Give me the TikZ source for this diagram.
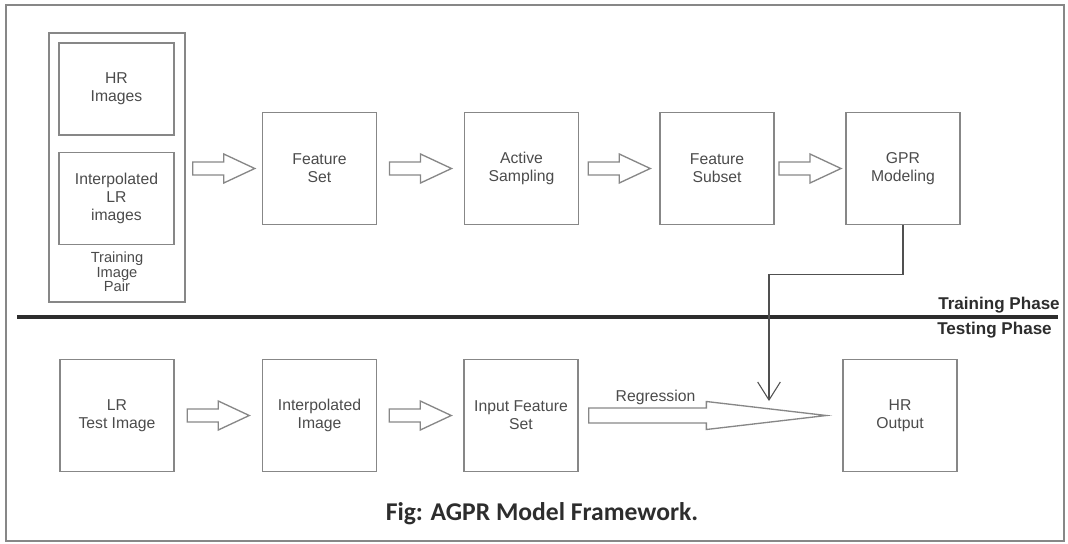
\documentclass[tikz,border=0pt]{standalone}
\usepackage{fontspec}
\setmainfont{Liberation Sans}
\newfontfamily\capfont{Carlito}
\usetikzlibrary{arrows.meta,calc,positioning}
\definecolor{boxgray}{RGB}{135,135,135}
\definecolor{txtgray}{RGB}{75,75,75}
\definecolor{linedark}{RGB}{45,45,45}
\definecolor{feedgray}{RGB}{80,80,80}

\begin{document}
\begin{tikzpicture}[x=0.75pt,y=-0.75pt,
	font=\fontsize{11.8}{13.5}\selectfont,
	stage/.style={draw=boxgray, line width=1pt, text=txtgray, align=center,
		minimum width=85.5pt, minimum height=84pt, inner sep=0pt},
	subimg/.style={stage, minimum width=86.25pt, minimum height=69pt},
	hollow/.style={draw=boxgray, line width=1pt, to path={
		($(\tikztostart)!.5!(\tikztotarget)+(-31,-6.5)$) -- ++(31,0) -- ++(0,-8)
		-- ++(31,14.5) -- ++(-31,14.5) -- ++(0,-8) -- ++(-31,0) -- cycle}},
	regress/.style={draw=boxgray, line width=1pt, to path={
		($(\tikztostart)+(10,-7.5)$) -- ($(\tikztotarget)+(-136,-7.5)$) -- ++(0,-6.5)
		-- ($(\tikztotarget)+(-16,0)$) -- ($(\tikztotarget)+(-136,14)$) -- ++(0,-6.5)
		-- ($(\tikztostart)+(10,7.5)$) -- cycle}},
	phase/.style={font=\bfseries\fontsize{12.8}{14}\selectfont, text=linedark, inner sep=0pt}]
\useasboundingbox (0,0) rectangle (1068,543);

% outer frame
\draw[boxgray, line width=1pt] (6,5) rectangle (1064,541);

%========================================
% TRAINING: image pair and feature chain
%========================================
\node[stage, minimum width=102pt, minimum height=201.75pt] (pair) at (117,167.5) {};
\node[subimg] (hrimg) at (116.5,89) {HR\\Images};
\node[subimg] (lrint) at (116.5,198.5) {Interpolated\\LR\\images};
\node[text=txtgray, align=center, inner sep=0pt, font=\fontsize{11}{10.8}\selectfont]
	(pairlbl) at (117,272) {Training\\Image\\Pair};

\node[stage] (fset) at (319.5,168.5) {Feature\\Set};
\node[stage] (actsamp) at (521.5,168.5) {Active\\Sampling};
\node[stage] (fsub) at (717,168.5) {Feature\\Subset};
\node[stage] (gpr) at (903,168.5) {GPR\\Modeling};

\draw[hollow] (pair.east |- fset.west) to (fset.west);
\draw[hollow] (fset.east) to (actsamp.west);
\draw[hollow] (actsamp.east) to (fsub.west);
\draw[hollow] (fsub.east) to (gpr.west);

%========================================
% phase split
%========================================
\draw[linedark, line width=2.6pt] (17,317) -- (1058,317);
\node[phase, anchor=base east] (trainlbl) at (1060,309) {Training Phase};
\node[phase, anchor=base east] (testlbl) at (1052,334) {Testing Phase};

%========================================
% TESTING: LR image to HR output
%========================================
\node[stage] (lrtest) at (117,415.5) {LR\\Test Image};
\node[stage] (interp) at (319.5,415.5) {Interpolated\\Image};
\node[stage] (infeat) at (521,415.5) {Input Feature\\Set};
\node[stage] (hrout) at (900,415.5) {HR\\Output};

\draw[hollow] (lrtest.east) to (interp.west);
\draw[hollow] (interp.east) to (infeat.west);
\draw[regress] (infeat.east) to (hrout.west);
\node[text=txtgray, anchor=base, inner sep=0pt] (reglbl) at (655.5,401) {Regression};

% model fed into the regression
\coordinate (drop) at (769,401);
\draw[feedgray, line width=0.8pt, -{Straight Barb[length=13.5pt,width=17pt]}]
	(gpr.south) -- ++(0,49) -| (drop);

% caption
\node[anchor=base, inner sep=0pt, text=linedark,
	font=\capfont\bfseries\fontsize{19.2}{21}\selectfont]
	(caption) at (542,520) {Fig: AGPR Model Framework.};
\end{tikzpicture}
\end{document}
